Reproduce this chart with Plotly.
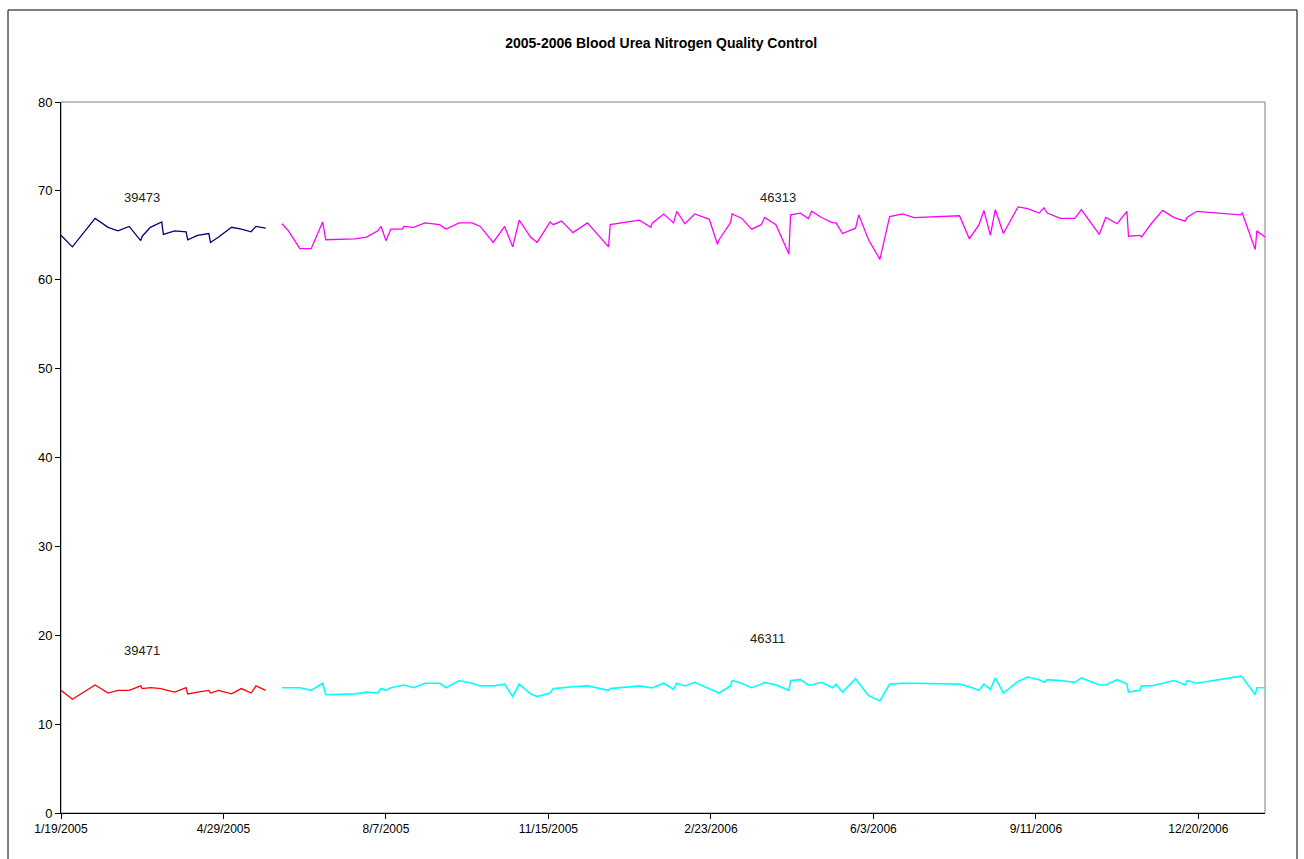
import plotly.graph_objects as go
import pandas as pd

# ---- Data ----
dates_a = ["2005-01-19", "2005-01-26", "2005-02-09", "2005-02-17", "2005-02-23",
           "2005-03-02", "2005-03-09", "2005-03-10", "2005-03-15", "2005-03-22",
           "2005-03-23", "2005-03-30", "2005-04-06", "2005-04-07", "2005-04-13",
           "2005-04-20", "2005-04-21", "2005-04-26", "2005-05-04", "2005-05-10",
           "2005-05-16", "2005-05-19", "2005-05-25"]
lot_39473 = [65.0, 63.7, 66.9, 65.9, 65.5, 66.0, 64.4, 64.9, 65.9, 66.5,
             65.1, 65.5, 65.4, 64.5, 65.0, 65.2, 64.2, 64.8, 65.9, 65.7,
             65.4, 66.0, 65.8]
lot_39471 = [13.8, 12.8, 14.4, 13.5, 13.8, 13.8, 14.3, 14.0, 14.1, 14.0,
             13.9, 13.6, 14.1, 13.4, 13.6, 13.8, 13.5, 13.8, 13.4, 14.0,
             13.5, 14.3, 13.8]

dates_b = ["2005-06-04", "2005-06-08", "2005-06-15", "2005-06-22", "2005-06-29",
           "2005-07-01", "2005-07-19", "2005-07-26", "2005-08-02", "2005-08-04",
           "2005-08-07", "2005-08-10", "2005-08-17", "2005-08-18", "2005-08-24",
           "2005-08-31", "2005-09-09", "2005-09-13", "2005-09-21", "2005-09-29",
           "2005-10-04", "2005-10-12", "2005-10-19", "2005-10-24", "2005-10-28",
           "2005-11-04", "2005-11-08", "2005-11-16", "2005-11-18", "2005-11-23",
           "2005-11-28", "2005-11-30", "2005-12-09", "2005-12-22", "2005-12-23",
           "2006-01-10", "2006-01-17", "2006-01-18", "2006-01-25", "2006-01-31",
           "2006-02-02", "2006-02-07", "2006-02-13", "2006-02-22", "2006-02-27",
           "2006-02-28", "2006-03-07", "2006-03-08", "2006-03-14", "2006-03-20",
           "2006-03-26", "2006-03-28", "2006-04-04", "2006-04-12", "2006-04-13",
           "2006-04-19", "2006-04-24", "2006-04-26", "2006-05-02", "2006-05-09",
           "2006-05-11", "2006-05-15", "2006-05-23", "2006-05-25", "2006-05-31",
           "2006-06-07", "2006-06-13", "2006-06-21", "2006-06-28", "2006-07-26",
           "2006-08-01", "2006-08-07", "2006-08-10", "2006-08-14", "2006-08-17",
           "2006-08-22", "2006-08-31", "2006-09-06", "2006-09-13", "2006-09-16",
           "2006-09-18", "2006-09-26", "2006-10-05", "2006-10-09", "2006-10-20",
           "2006-10-24", "2006-10-31", "2006-11-06", "2006-11-07", "2006-11-14",
           "2006-11-15", "2006-11-21", "2006-11-28", "2006-12-05", "2006-12-12",
           "2006-12-13", "2006-12-19", "2007-01-15", "2007-01-16", "2007-01-24",
           "2007-01-25", "2007-01-30"]
lot_46313 = [66.3, 65.5, 63.5, 63.5, 66.5, 64.5, 64.6, 64.8, 65.5, 66.0,
             64.4, 65.7, 65.7, 66.0, 65.9, 66.4, 66.2, 65.7, 66.4, 66.4,
             66.0, 64.2, 66.0, 63.7, 66.7, 64.8, 64.2, 66.5, 66.2, 66.6,
             65.7, 65.3, 66.4, 63.7, 66.2, 66.7, 65.9, 66.4, 67.4, 66.4,
             67.7, 66.3, 67.4, 66.8, 64.0, 64.5, 66.4, 67.4, 66.9, 65.7,
             66.2, 67.0, 66.2, 62.9, 67.3, 67.5, 66.9, 67.7, 67.0, 66.4,
             66.4, 65.2, 65.8, 67.3, 64.5, 62.3, 67.1, 67.4, 67.0, 67.2,
             64.6, 66.2, 67.8, 65.0, 67.9, 65.2, 68.2, 68.0, 67.5, 68.1,
             67.5, 66.9, 66.9, 67.9, 65.1, 67.0, 66.3, 67.7, 64.9, 65.0,
             64.8, 66.3, 67.8, 67.0, 66.6, 67.0, 67.7, 67.3, 67.5, 63.4,
             65.5, 64.8]
lot_46311 = [14.1, 14.1, 14.1, 13.8, 14.6, 13.3, 13.4, 13.6, 13.5, 14.0,
             13.8, 14.1, 14.3, 14.4, 14.1, 14.6, 14.6, 14.1, 14.9, 14.6,
             14.3, 14.3, 14.5, 13.1, 14.5, 13.4, 13.1, 13.5, 14.0, 14.1,
             14.2, 14.2, 14.3, 13.8, 14.0, 14.3, 14.1, 14.1, 14.6, 13.9,
             14.6, 14.3, 14.7, 14.0, 13.6, 13.5, 14.3, 14.9, 14.6, 14.1,
             14.5, 14.7, 14.4, 13.8, 14.9, 15.0, 14.4, 14.4, 14.7, 14.1,
             14.5, 13.6, 15.1, 14.6, 13.2, 12.6, 14.5, 14.6, 14.6, 14.5,
             14.2, 13.8, 14.5, 13.9, 15.2, 13.5, 14.8, 15.3, 15.0, 14.7,
             15.0, 14.9, 14.7, 15.2, 14.4, 14.4, 15.0, 14.5, 13.6, 13.8,
             14.3, 14.3, 14.6, 14.9, 14.4, 14.9, 14.6, 15.4, 15.3, 13.3,
             14.1, 14.1]

series_names = ["39473", "39471", "46313", "46311"]
title_text = "2005-2006 Blood Urea Nitrogen Quality Control"
y_ticks = [0, 10, 20, 30, 40, 50, 60, 70, 80]

# ---- Figure ----
FONT = "Liberation Sans, Arial, sans-serif"
fig = go.Figure()
fig.add_trace(go.Scatter(x=pd.to_datetime(dates_a), y=lot_39473, mode="lines",
                         name=series_names[0], line=dict(color="#000080", width=1.3)))
fig.add_trace(go.Scatter(x=pd.to_datetime(dates_a), y=lot_39471, mode="lines",
                         name=series_names[1], line=dict(color="#FF0000", width=1.3)))
fig.add_trace(go.Scatter(x=pd.to_datetime(dates_b), y=lot_46313, mode="lines",
                         name=series_names[2], line=dict(color="#FF00FF", width=1.3)))
fig.add_trace(go.Scatter(x=pd.to_datetime(dates_b), y=lot_46311, mode="lines",
                         name=series_names[3], line=dict(color="#00FFFF", width=1.6)))

tick_dates = pd.date_range(dates_a[0], periods=8, freq="100D")
tick_text = [f"{d.month}/{d.day}/{d.year}" for d in tick_dates]

label_pos = [("2005-03-10", 69.2), ("2005-03-10", 18.3),
             ("2006-04-05", 69.2), ("2006-03-30", 19.6)]
for name, (xd, yv) in zip(series_names, label_pos):
    fig.add_annotation(x=xd, y=yv, xref="x", yref="y", text=name, showarrow=False,
                       font=dict(family=FONT, size=13, color="#222222"))

fig.update_layout(
    width=1304, height=859,
    margin=dict(l=61, r=39, t=102, b=46),
    paper_bgcolor="white", plot_bgcolor="white",
    showlegend=False,
    title=dict(text=f"<b>{title_text}</b>", x=0.507, xanchor="center",
               y=1 - 43 / 859, yanchor="middle", yref="container",
               font=dict(family=FONT, size=14, color="#000000")),
    font=dict(family=FONT, size=12, color="#000000"),
)
fig.update_xaxes(type="date", range=[dates_a[0], dates_b[-1]],
                 tickvals=tick_dates, ticktext=tick_text,
                 showgrid=False, zeroline=False, showline=True, linecolor="black",
                 linewidth=1, ticks="outside", ticklen=5, tickcolor="black",
                 tickfont=dict(family=FONT, size=12, color="black"))
fig.update_yaxes(range=[0, 80], tickvals=y_ticks, showgrid=False, zeroline=False,
                 showline=True, linecolor="black", linewidth=1,
                 ticks="outside", ticklen=5, tickcolor="black",
                 tickfont=dict(family=FONT, size=13, color="black"))

# plot-area border (gray) and outer chart frame (black)
fig.add_shape(type="rect", xref="paper", yref="paper", x0=0, x1=1, y0=0, y1=1,
              line=dict(color="#808080", width=1), layer="below")
fig.add_shape(type="rect", xref="paper", yref="paper",
              x0=(8 - 61) / 1204, x1=(1297 - 61) / 1204,
              y0=(813 - 866) / 711, y1=(813 - 10) / 711,
              line=dict(color="black", width=1), layer="below")

fig.write_html("out.html", config={"displayModeBar": False},
               post_script="document.body.style.margin='0';"
                           "document.body.style.overflow='hidden';")
